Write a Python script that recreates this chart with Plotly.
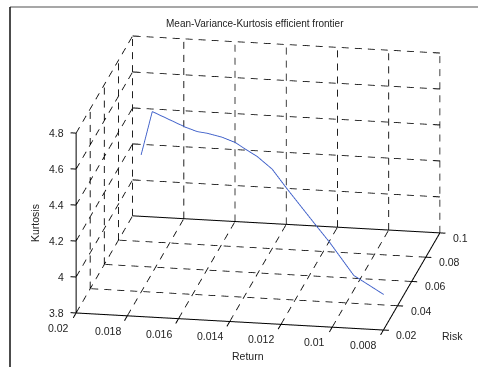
import math
import plotly.graph_objects as go

# ---- data ----
ret = [0.01905, 0.01857, 0.01719, 0.01668, 0.01625, 0.01559, 0.01501, 0.01455,
       0.01403, 0.01336, 0.01268, 0.01142, 0.01073, 0.00960, 0.00832]
risk = [0.0776, 0.0760, 0.0728, 0.0712, 0.0696, 0.0672, 0.0648, 0.0624,
        0.0600, 0.0568, 0.0528, 0.0464, 0.0424, 0.0360, 0.0320]
kurt = [4.297, 4.553, 4.499, 4.489, 4.494, 4.493, 4.484, 4.467,
        4.447, 4.404, 4.329, 4.187, 4.117, 3.983, 3.914]

ret_ticks = [0.008, 0.01, 0.012, 0.014, 0.016, 0.018, 0.02]
ret_labels = ["0.008", "0.01", "0.012", "0.014", "0.016", "0.018", "0.02"]
risk_ticks = [0.02, 0.04, 0.06, 0.08, 0.1]
risk_labels = ["0.02", "0.04", "0.06", "0.08", "0.1"]
kurt_ticks = [3.8, 4.0, 4.2, 4.4, 4.6, 4.8]
kurt_labels = ["3.8", "4", "4.2", "4.4", "4.6", "4.8"]

RMIN, RMAX = ret_ticks[0], ret_ticks[-1]
SMIN, SMAX = risk_ticks[0], risk_ticks[-1]
KMIN, KMAX = kurt_ticks[0], kurt_ticks[-1]
dR, dS, dK = RMAX - RMIN, SMAX - SMIN, KMAX - KMIN
M = 0.07  # extra room so tick marks are not clipped

# approximate on-screen length (px) of a full axis span, used to size dashes
PX = (307.0, 112.0, 179.0)
DASH, GAP = 7.0, 6.0

FONT = "Liberation Sans, Arial, sans-serif"
TXT = "#222222"


def seg_trace(segs, color, width):
    xs, ys, zs = [], [], []
    for a, b in segs:
        xs += [a[0], b[0], None]
        ys += [a[1], b[1], None]
        zs += [a[2], b[2], None]
    return go.Scatter3d(x=xs, y=ys, z=zs, mode="lines",
                        line=dict(color=color, width=width),
                        hoverinfo="skip", showlegend=False)


def dashed(a, b):
    """split segment a-b into dash pieces (MATLAB-like '--' style)"""
    fr = [(b[0] - a[0]) / dR, (b[1] - a[1]) / dS, (b[2] - a[2]) / dK]
    L = math.sqrt(sum((f * p) ** 2 for f, p in zip(fr, PX)))
    per = DASH + GAP
    out = []
    t = 0.0
    while t < L:
        t1 = min(t + DASH, L)
        p0 = tuple(a[i] + (b[i] - a[i]) * t / L for i in range(3))
        p1 = tuple(a[i] + (b[i] - a[i]) * t1 / L for i in range(3))
        out.append((p0, p1))
        t += per
    return out


grid = []
# back wall (risk = max)
for r in ret_ticks:
    grid.append(((r, SMAX, KMIN), (r, SMAX, KMAX)))
for k in kurt_ticks[1:]:
    grid.append(((RMIN, SMAX, k), (RMAX, SMAX, k)))
# left wall (return = max)
for s in risk_ticks[1:]:
    grid.append(((RMAX, s, KMIN), (RMAX, s, KMAX)))
for k in kurt_ticks[1:]:
    grid.append(((RMAX, SMIN, k), (RMAX, SMAX, k)))
# floor
for r in ret_ticks[1:]:
    grid.append(((r, SMIN, KMIN), (r, SMAX, KMIN)))
for s in risk_ticks[1:-1]:
    grid.append(((RMIN, s, KMIN), (RMAX, s, KMIN)))

grid_dashes = []
for a, b in grid:
    grid_dashes += dashed(a, b)

axes = [
    ((RMIN, SMIN, KMIN), (RMAX, SMIN, KMIN)),
    ((RMIN, SMIN, KMIN), (RMIN, SMAX, KMIN)),
    ((RMAX, SMIN, KMIN), (RMAX, SMIN, KMAX)),
    ((RMIN, SMAX, KMIN), (RMAX, SMAX, KMIN)),
]
ticks = []
for r in ret_ticks:
    ticks.append(((r, SMIN - 0.05 * dS, KMIN), (r, SMIN, KMIN)))
for s in risk_ticks:
    ticks.append(((RMIN - 0.018 * dR, s, KMIN), (RMIN, s, KMIN)))
for k in kurt_ticks:
    ticks.append(((RMAX + 0.018 * dR, SMIN, k), (RMAX, SMIN, k)))
    # small inner ticks on the back vertical edges
    ticks.append(((RMAX, SMAX, k), (RMAX - 0.02 * dR, SMAX, k)))
    ticks.append(((RMIN, SMAX, k), (RMIN + 0.02 * dR, SMAX, k)))

fig = go.Figure()
fig.add_trace(seg_trace(grid_dashes, "#000000", 1.6))
fig.add_trace(seg_trace(axes + ticks, "#000000", 2))
fig.add_trace(go.Scatter3d(x=ret, y=risk, z=kurt, mode="lines",
                           line=dict(color="#3a5cc8", width=1.8),
                           showlegend=False, hoverinfo="skip"))

ann = []
for r, t in zip(ret_ticks, ret_labels):
    ann.append(dict(x=r, y=SMIN, z=KMIN, text=t, xanchor="right", yanchor="middle",
                    xshift=-5, yshift=-15))
for s, t in zip(risk_ticks, risk_labels):
    ann.append(dict(x=RMIN, y=s, z=KMIN, text=t, xanchor="left", yanchor="middle",
                    xshift=11, yshift=-5))
for k, t in zip(kurt_ticks, kurt_labels):
    ann.append(dict(x=RMAX, y=SMIN, z=k, text=t, xanchor="right", yanchor="middle",
                    xshift=-10, yshift=0))
for a in ann:
    a.update(showarrow=False, font=dict(family=FONT, size=10.5, color=TXT))

ax_common = dict(showgrid=False, zeroline=False, showline=False, showticklabels=False,
                 ticks="", showbackground=False, showspikes=False, title=dict(text=""))

# view: elevation ~18 deg, azimuth ~-79.8 deg, orthographic
ex, ey, ez = 0.16819, -0.93610, 0.30892
R = 1.8
lab = dict(xref="paper", yref="paper", showarrow=False, xanchor="center", yanchor="middle")
fig.update_layout(
    width=478, height=367,
    margin=dict(l=0, r=0, t=0, b=0),
    paper_bgcolor="white",
    showlegend=False,
    scene=dict(
        domain=dict(x=[0.0802, 1.0], y=[0.003, 1.0]),
        xaxis=dict(range=[RMAX + M * dR, RMIN - M * dR], **ax_common),
        yaxis=dict(range=[SMIN - M * dS, SMAX + M * dS], **ax_common),
        zaxis=dict(range=[KMIN - M * dK, KMAX + M * dK], **ax_common),
        aspectmode="manual",
        aspectratio=dict(x=1.945, y=1.990, z=1.178),
        camera=dict(eye=dict(x=ex * R, y=ey * R, z=ez * R),
                    up=dict(x=0, y=0, z=1),
                    center=dict(x=0, y=0, z=0),
                    projection=dict(type="orthographic")),
        annotations=ann,
    ),
    annotations=[
        dict(x=255 / 478, y=1 - 24 / 367, text="Mean-Variance-Kurtosis efficient frontier",
             font=dict(family=FONT, size=10, color=TXT), **lab),
        dict(x=248 / 478, y=1 - 356 / 367, text="Return",
             font=dict(family=FONT, size=10.5, color=TXT), **lab),
        dict(x=452 / 478, y=1 - 336 / 367, text="Risk",
             font=dict(family=FONT, size=10.5, color=TXT), **lab),
        dict(x=35 / 478, y=1 - 223 / 367, text="Kurtosis", textangle=-90,
             font=dict(family=FONT, size=10.5, color=TXT), **lab),
    ],
    shapes=[
        dict(type="line", xref="paper", yref="paper", x0=10 / 478, x1=1, y0=1 - 7 / 367,
             y1=1 - 7 / 367, line=dict(color="#8a8a8a", width=1.5)),
        dict(type="line", xref="paper", yref="paper", x0=10 / 478, x1=10 / 478, y0=0,
             y1=1 - 7 / 367, line=dict(color="#111111", width=1.5)),
    ],
)

fig.write_html("out.html")
